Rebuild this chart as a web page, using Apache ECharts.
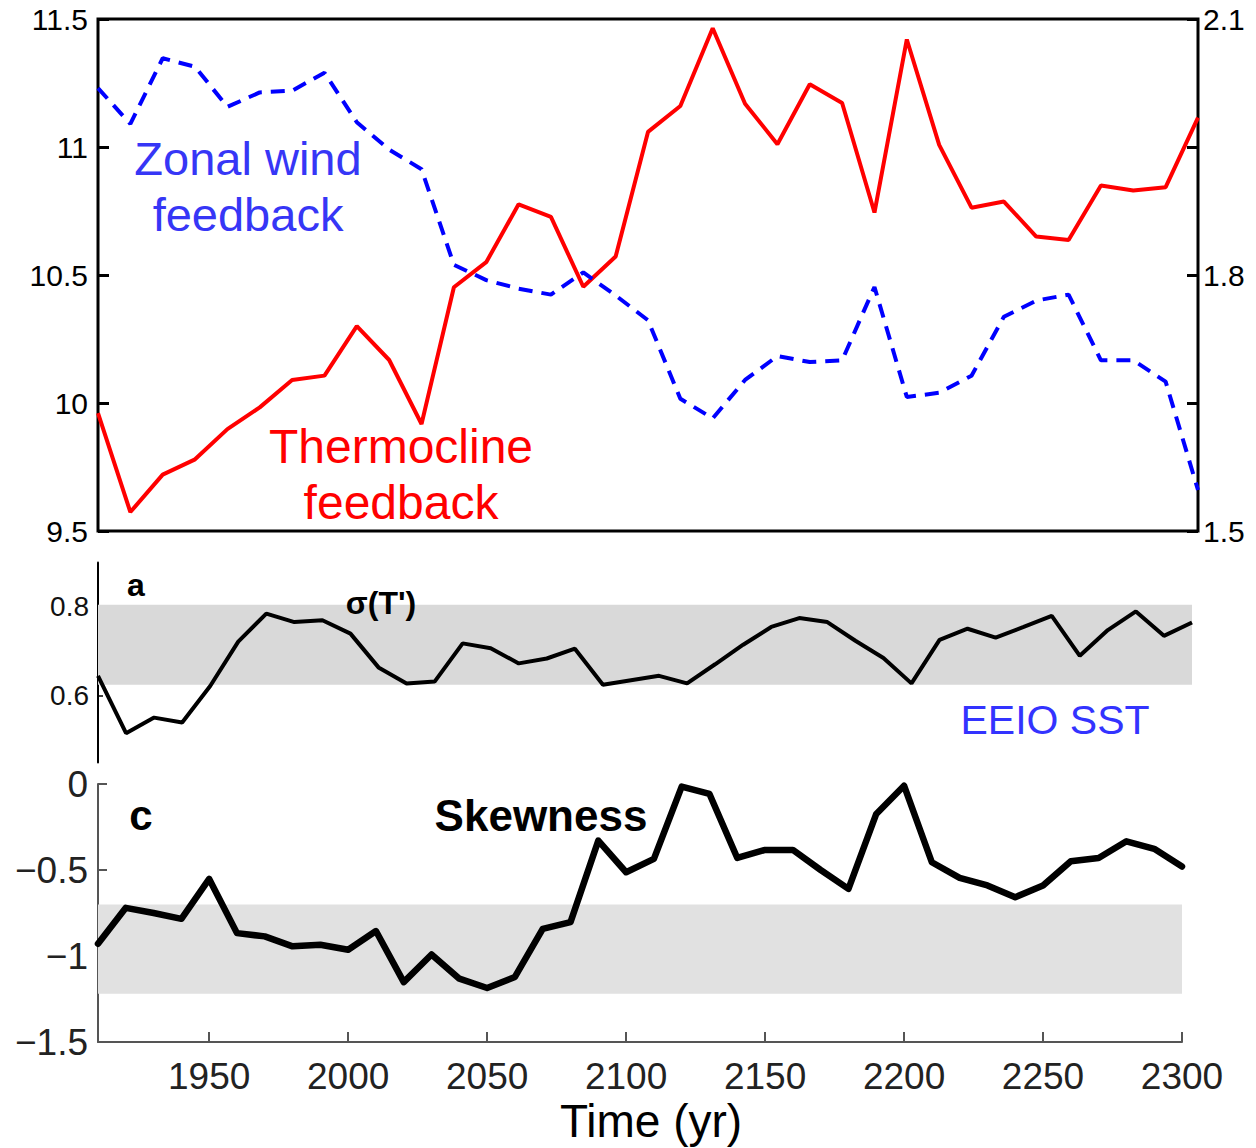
<!DOCTYPE html>
<html>
<head>
<meta charset="utf-8">
<script src="https://cdn.jsdelivr.net/npm/echarts@6/dist/echarts.min.js"></script>
<style>
html,body{margin:0;padding:0;background:#fff;}
#chart{width:1256px;height:1148px;}
</style>
</head>
<body>
<div id="chart"></div>
<script>
// ---- Top panel (feedbacks), 35 samples ----
const topSteps = ['1','2','3','4','5','6','7','8','9','10','11','12','13','14','15','16','17','18','19','20','21','22','23','24','25','26','27','28','29','30','31','32','33','34','35'];
const thermocline = [9.96, 9.574, 9.72, 9.78, 9.898, 9.983, 10.09, 10.107, 10.30, 10.168, 9.918, 10.452, 10.55, 10.776, 10.727, 10.454, 10.572, 11.059, 11.16, 11.464, 11.169, 11.011, 11.245, 11.172, 10.744, 11.42, 11.008, 10.763, 10.787, 10.65, 10.637, 10.85, 10.83, 10.843, 11.115];
const zonalWind = [2.019, 1.977, 2.054, 2.044, 1.997, 2.014, 2.016, 2.037, 1.979, 1.947, 1.924, 1.812, 1.794, 1.784, 1.777, 1.803, 1.776, 1.747, 1.655, 1.632, 1.677, 1.705, 1.698, 1.70, 1.786, 1.657, 1.662, 1.682, 1.751, 1.770, 1.777, 1.70, 1.70, 1.675, 1.548];
const rightTickLabels = [1.5, 1.8, 2.1];

// ---- Panels a and c: years ----
const years = [1910,1920,1930,1940,1950,1960,1970,1980,1990,2000,2010,2020,2030,2040,2050,2060,2070,2080,2090,2100,2110,2120,2130,2140,2150,2160,2170,2180,2190,2200,2210,2220,2230,2240,2250,2260,2270,2280,2290,2300];
const sigmaT = [0.645, 0.516, 0.551, 0.540, 0.622, 0.722, 0.785, 0.766, 0.770, 0.740, 0.664, 0.628, 0.632, 0.718, 0.707, 0.673, 0.684, 0.706, 0.625, 0.635, 0.645, 0.628, 0.671, 0.715, 0.755, 0.775, 0.766, 0.724, 0.685, 0.628, 0.726, 0.751, 0.731, 0.755, 0.780, 0.690, 0.748, 0.790, 0.735, 0.765];
const skewness = [-0.929, -0.72, -0.75, -0.784, -0.552, -0.867, -0.886, -0.944, -0.935, -0.964, -0.855, -1.152, -0.991, -1.132, -1.186, -1.122, -0.842, -0.803, -0.329, -0.513, -0.435, -0.015, -0.058, -0.43, -0.383, -0.383, -0.50, -0.61, -0.174, -0.01, -0.455, -0.546, -0.59, -0.658, -0.59, -0.449, -0.43, -0.333, -0.377, -0.48];
const sigmaBand = [0.625, 0.805];
const skewBand = [-1.22, -0.70];
const sigmaTicks = [0.6, 0.8];
const yearTicks = [1950, 2000, 2050, 2100, 2150, 2200, 2250, 2300];

const FONT = '"Liberation Sans", Arial, Helvetica, sans-serif';
const chart = echarts.init(document.getElementById('chart'), null, {renderer: 'svg'});

const pair = (xs, ys) => xs.map((x, i) => [x, ys[i]]);

chart.setOption({
  animation: false,
  backgroundColor: '#fff',
  grid: [
    {left: 98, top: 19, width: 1100, height: 512, show: true, borderColor: '#000', borderWidth: 3, backgroundColor: 'transparent'},
    {left: 98, top: 562.5, width: 1094, height: 200},
    {left: 98, top: 784, width: 1084, height: 258}
  ],
  xAxis: [
    {gridIndex: 0, type: 'category', data: topSteps, boundaryGap: false, show: false},
    {gridIndex: 1, type: 'value', min: 1910, max: 2300, show: false},
    {gridIndex: 2, type: 'value', min: 1910, max: 2300, position: 'bottom',
      axisLine: {show: true, onZero: false, lineStyle: {color: '#555', width: 2}},
      axisTick: {show: true, inside: true, length: 10, customValues: yearTicks, lineStyle: {color: '#555', width: 2}},
      axisLabel: {customValues: yearTicks, color: '#222', fontSize: 37, fontFamily: FONT, margin: 16, formatter: v => String(v)},
      splitLine: {show: false}}
  ],
  yAxis: [
    {gridIndex: 0, type: 'value', min: 9.5, max: 11.5, interval: 0.5, position: 'left',
      axisLine: {show: false},
      axisTick: {show: true, inside: true, length: 11, lineStyle: {color: '#000', width: 3}},
      axisLabel: {color: '#000', fontSize: 30, fontFamily: FONT, margin: 10},
      splitLine: {show: false}},
    {gridIndex: 0, type: 'value', min: 1.5, max: 2.1, interval: 0.15, position: 'right',
      axisLine: {show: false},
      axisTick: {show: true, inside: true, length: 11, lineStyle: {color: '#000', width: 3}},
      axisLabel: {color: '#000', fontSize: 30, fontFamily: FONT, margin: 5,
        formatter: v => rightTickLabels.some(t => Math.abs(t - v) < 1e-6) ? v.toFixed(1) : ''},
      splitLine: {show: false}},
    {gridIndex: 1, type: 'value', min: 0.45, max: 0.9,
      axisLine: {show: true, lineStyle: {color: '#000', width: 2}},
      axisTick: {show: true, inside: true, length: 5, customValues: sigmaTicks, lineStyle: {color: '#000', width: 1.5}},
      axisLabel: {customValues: sigmaTicks, color: '#111', fontSize: 28, fontFamily: FONT, margin: 9, formatter: v => v.toFixed(1)},
      splitLine: {show: false}},
    {gridIndex: 2, type: 'value', min: -1.5, max: 0, interval: 0.5,
      axisLine: {show: true, lineStyle: {color: '#555', width: 2}},
      axisTick: {show: true, inside: true, length: 9, lineStyle: {color: '#555', width: 2}},
      axisLabel: {color: '#222', fontSize: 37, fontFamily: FONT, margin: 10,
        formatter: v => String(v).replace('-', '\u2212')},
      splitLine: {show: false}}
  ],
  series: [
    {type: 'line', name: 'Thermocline feedback', xAxisIndex: 0, yAxisIndex: 0, data: thermocline,
      symbol: 'none', lineStyle: {color: '#ff0000', width: 4}, z: 3},
    {type: 'line', name: 'Zonal wind feedback', xAxisIndex: 0, yAxisIndex: 1, data: zonalWind,
      symbol: 'none', lineStyle: {color: '#0000ff', width: 4, type: [14, 9]}, z: 3},
    {type: 'line', name: 'sigma', xAxisIndex: 1, yAxisIndex: 2, data: pair(years, sigmaT),
      symbol: 'none', lineStyle: {color: '#000', width: 4}, z: 3,
      markArea: {silent: true, itemStyle: {color: '#d9d9d9'},
        data: [[{xAxis: years[0], yAxis: sigmaBand[0]}, {xAxis: years[years.length-1], yAxis: sigmaBand[1]}]]}},
    {type: 'line', name: 'skewness', xAxisIndex: 2, yAxisIndex: 3, data: pair(years, skewness),
      symbol: 'none', lineStyle: {color: '#000', width: 6.5, join: 'round', cap: 'round'}, z: 3,
      markArea: {silent: true, itemStyle: {color: '#e1e1e1'},
        data: [[{xAxis: years[0], yAxis: skewBand[0]}, {xAxis: years[years.length-1], yAxis: skewBand[1]}]]}}
  ],
  graphic: [
    {type: 'text', z: 100, x: 248, y: 158, style: {text: 'Zonal wind', font: '47px ' + FONT, fill: '#3636f6', textAlign: 'center', textVerticalAlign: 'middle'}},
    {type: 'text', z: 100, x: 248, y: 214, style: {text: 'feedback', font: '47px ' + FONT, fill: '#3636f6', textAlign: 'center', textVerticalAlign: 'middle'}},
    {type: 'text', z: 100, x: 401, y: 446, style: {text: 'Thermocline', font: '48px ' + FONT, fill: '#ff0000', textAlign: 'center', textVerticalAlign: 'middle'}},
    {type: 'text', z: 100, x: 401, y: 502, style: {text: 'feedback', font: '48px ' + FONT, fill: '#ff0000', textAlign: 'center', textVerticalAlign: 'middle'}},
    {type: 'text', z: 100, x: 136, y: 585, style: {text: 'a', font: 'bold 32px ' + FONT, fill: '#000', textAlign: 'center', textVerticalAlign: 'middle'}},
    {type: 'text', z: 100, x: 381, y: 603, style: {text: "σ(T')", font: 'bold 32px ' + FONT, fill: '#000', textAlign: 'center', textVerticalAlign: 'middle'}},
    {type: 'text', z: 100, x: 1055, y: 720, style: {text: 'EEIO SST', font: '41px ' + FONT, fill: '#3333ff', textAlign: 'center', textVerticalAlign: 'middle'}},
    {type: 'text', z: 100, x: 141, y: 815, style: {text: 'c', font: 'bold 42px ' + FONT, fill: '#000', textAlign: 'center', textVerticalAlign: 'middle'}},
    {type: 'text', z: 100, x: 541, y: 815, style: {text: 'Skewness', font: 'bold 44px ' + FONT, fill: '#000', textAlign: 'center', textVerticalAlign: 'middle'}},
    {type: 'text', z: 100, x: 651, y: 1121, style: {text: 'Time (yr)', font: '46px ' + FONT, fill: '#000', textAlign: 'center', textVerticalAlign: 'middle'}}
  ]
});
</script>
</body>
</html>
